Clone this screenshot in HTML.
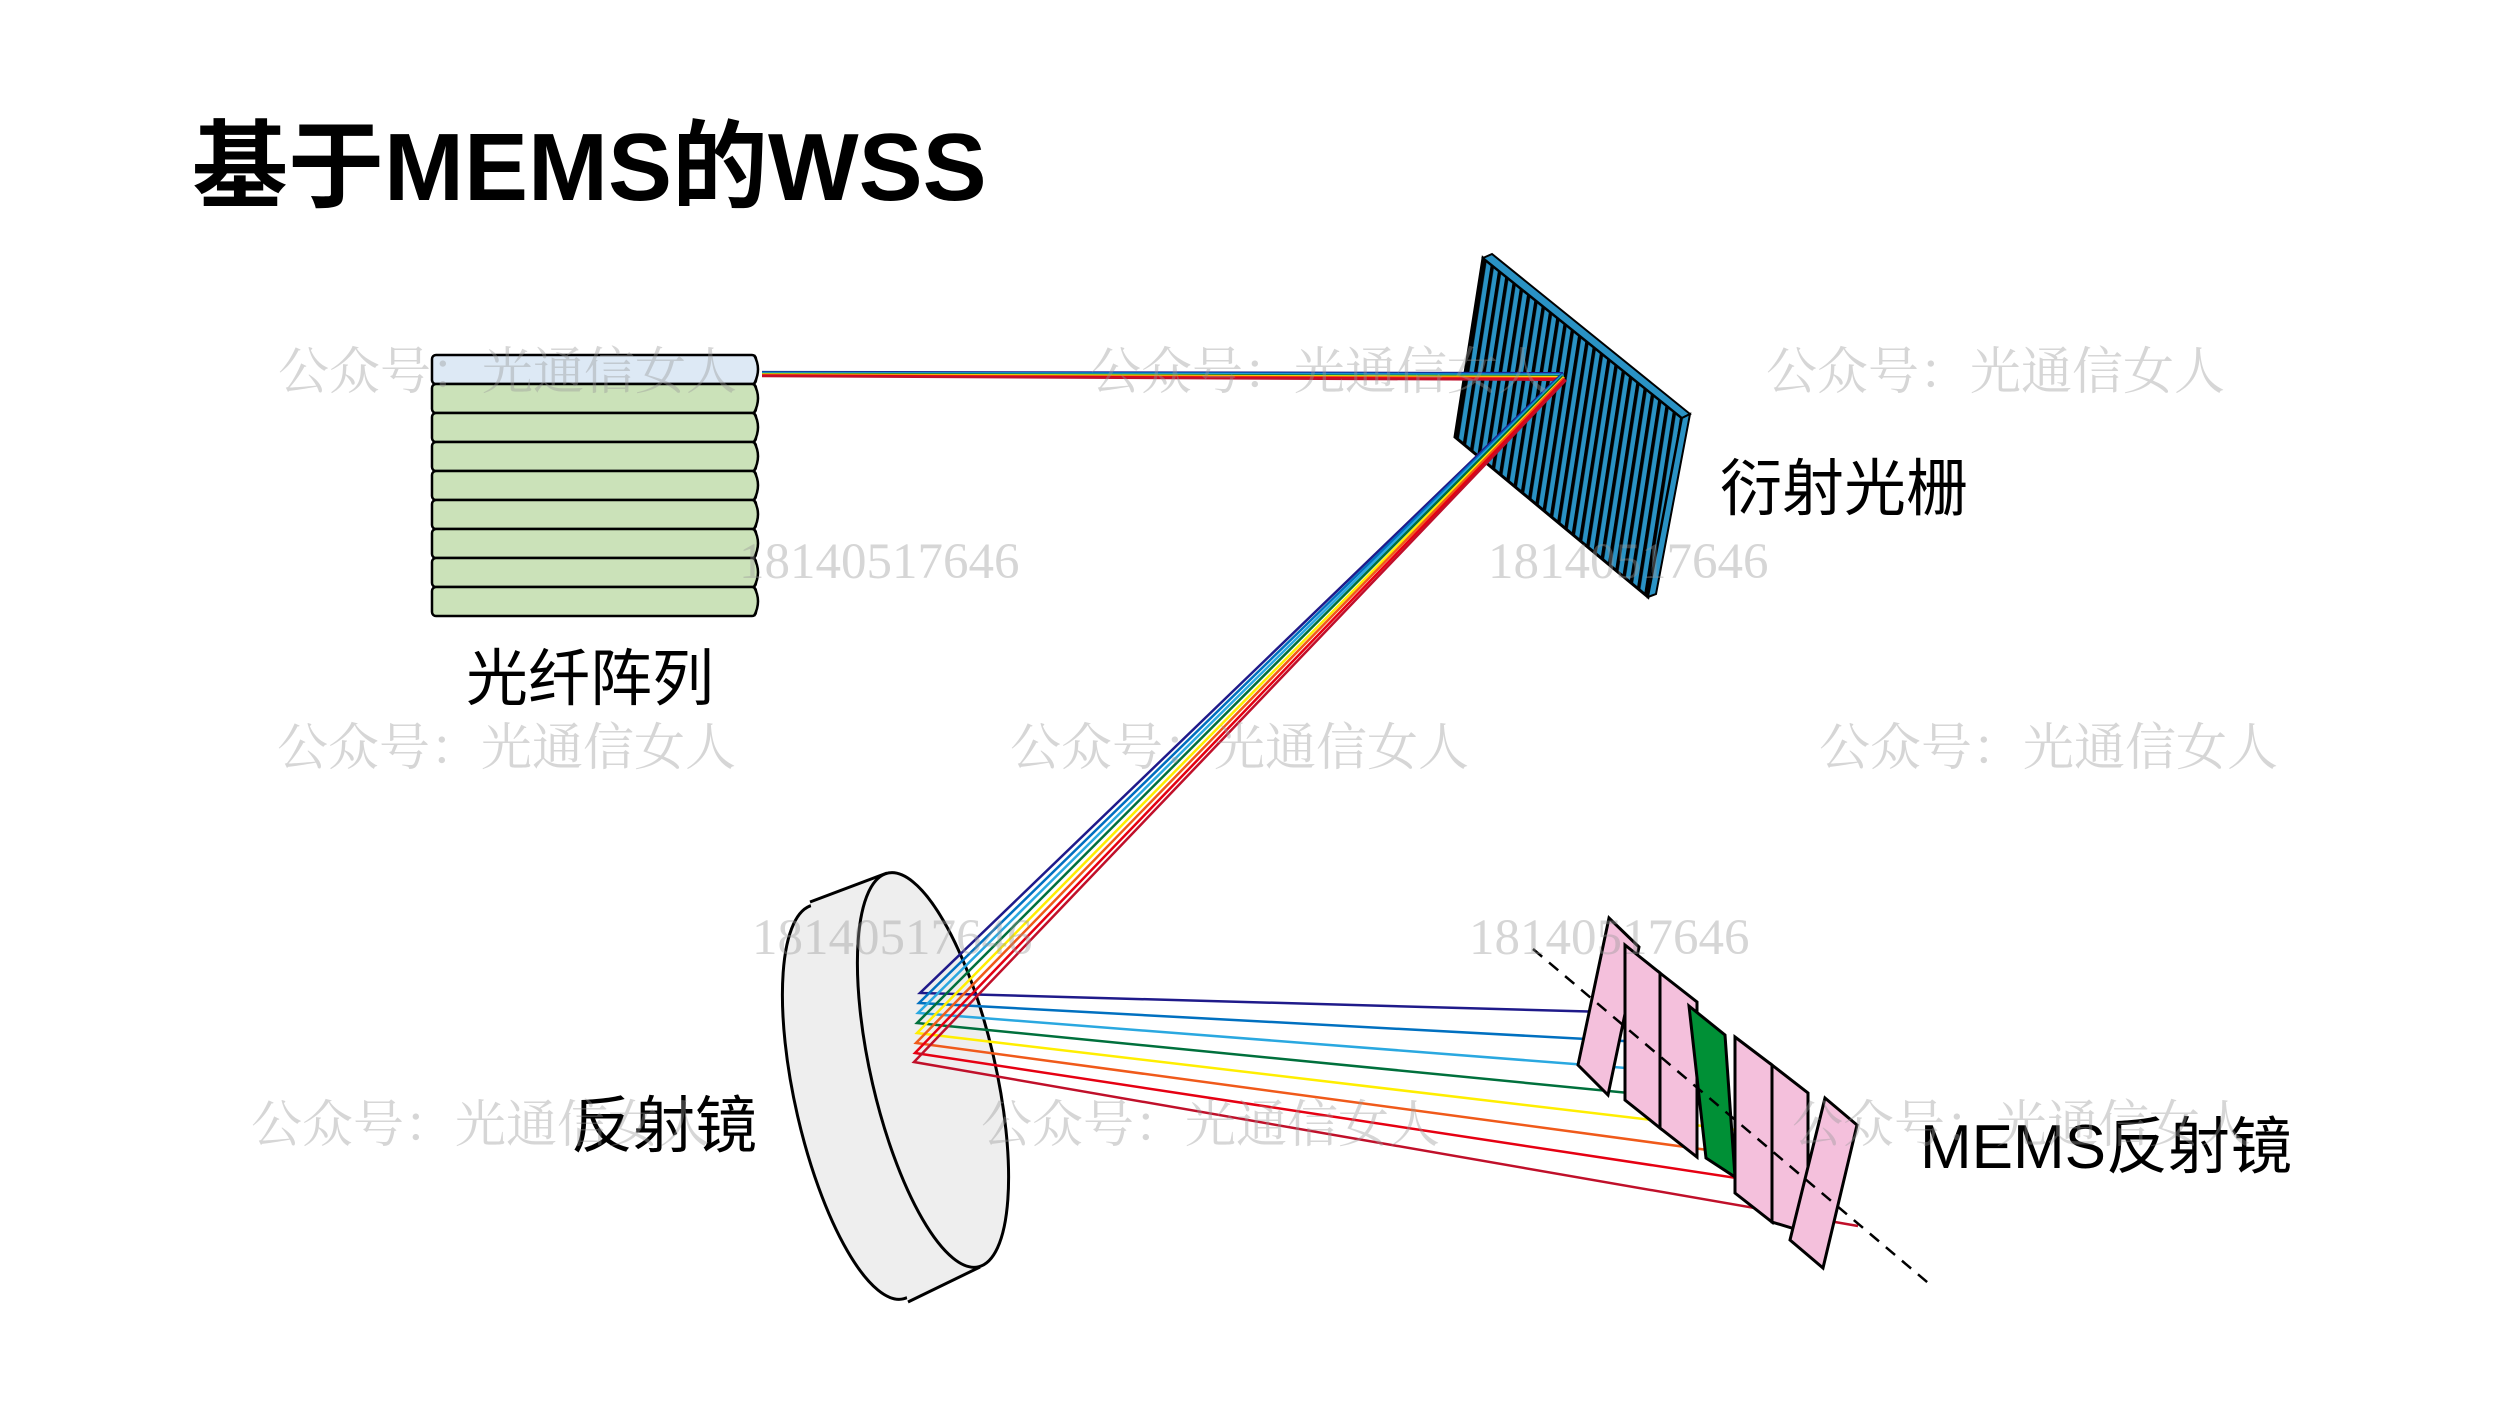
<!DOCTYPE html>
<html><head><meta charset="utf-8"><style>
html,body{margin:0;padding:0;background:#fff;}
svg{display:block}
</style></head><body>
<svg width="2500" height="1406" viewBox="0 0 2500 1406" xmlns="http://www.w3.org/2000/svg">
<defs>
<pattern id="gr" patternUnits="userSpaceOnUse" width="8.2" height="20" patternTransform="translate(1483,0) skewX(-8.9)">
<rect x="0" y="0" width="8.2" height="20" fill="#2a92c4"/>
<rect x="0" y="0" width="3.6" height="20" fill="#000"/>
</pattern>
</defs>
<rect width="2500" height="1406" fill="#fff"/>

<text x="192" y="200" font-family="'Liberation Sans','Noto Sans CJK SC',sans-serif" font-weight="bold" font-size="96" fill="#000">基于MEMS的WSS</text>

<!-- fiber array -->
<g stroke="#000" stroke-width="2.5">
<rect x="432" y="355" width="324" height="29" rx="4" fill="#dde9f5"/>
<rect x="432" y="384" width="324" height="29" rx="4" fill="#cbe2b9"/>
<rect x="432" y="413" width="324" height="29" rx="4" fill="#cbe2b9"/>
<rect x="432" y="442" width="324" height="29" rx="4" fill="#cbe2b9"/>
<rect x="432" y="471" width="324" height="29" rx="4" fill="#cbe2b9"/>
<rect x="432" y="500" width="324" height="29" rx="4" fill="#cbe2b9"/>
<rect x="432" y="529" width="324" height="29" rx="4" fill="#cbe2b9"/>
<rect x="432" y="558" width="324" height="29" rx="4" fill="#cbe2b9"/>
<rect x="432" y="587" width="324" height="29" rx="4" fill="#cbe2b9"/>
</g>
<g stroke="#000" stroke-width="2.5" fill="#cbe2b9">
<path d="M754,355 q8,14 0,29" fill="#dde9f5"/>
<path d="M754,384 q8,14 0,29"/><path d="M754,413 q8,14 0,29"/><path d="M754,442 q8,14 0,29"/>
<path d="M754,471 q8,14 0,29"/><path d="M754,500 q8,14 0,29"/><path d="M754,529 q8,14 0,29"/>
<path d="M754,558 q8,14 0,29"/><path d="M754,587 q8,14 0,29"/>
</g>

<!-- grating -->
<polygon points="1483,258 1682,418 1648,597 1455,437" fill="url(#gr)" stroke="#000" stroke-width="3"/>
<polygon points="1483,258 1492,254 1690,414 1682,418" fill="#2a92c4" stroke="#000" stroke-width="2"/>
<polygon points="1682,418 1690,414 1656,594 1648,597" fill="#2a92c4" stroke="#000" stroke-width="2"/>

<!-- incoming beam -->
<g stroke-width="2.2" fill="none">
<line x1="762" y1="372" x2="1563" y2="373" stroke="#1f1a8a"/>
<line x1="762" y1="372.6" x2="1563" y2="374" stroke="#0070c0"/>
<line x1="762" y1="373.2" x2="1563" y2="375" stroke="#2aa8e0"/>
<line x1="762" y1="373.8" x2="1563" y2="376" stroke="#00703c"/>
<line x1="762" y1="374.4" x2="1563" y2="377" stroke="#ffee00"/>
<line x1="762" y1="375" x2="1563" y2="378" stroke="#f05a1a"/>
<line x1="762" y1="375.6" x2="1563" y2="379" stroke="#e60012"/>
<line x1="762" y1="376.2" x2="1563" y2="380" stroke="#c0102a"/>
</g>

<!-- mirror -->
<g stroke="#000" stroke-width="3">
<ellipse cx="858" cy="1102" rx="62" ry="202" transform="rotate(-13 858 1102)" fill="#eeeeee"/>
<polygon points="810,902 887,873 980,1267 908,1302" fill="#eeeeee" stroke="none"/>
<line x1="810" y1="902" x2="887" y2="873"/>
<line x1="908" y1="1302" x2="980" y2="1267"/>
<ellipse cx="933" cy="1070" rx="62" ry="202" transform="rotate(-13 933 1070)" fill="#eeeeee"/>
</g>

<!-- diagonal beams -->
<g stroke-width="2.5" fill="none">
<polyline points="1563,373 920,993 1607,1012" stroke="#1f1a8a"/>
<polyline points="1563,374 919,1003 1642,1042" stroke="#0070c0"/>
<polyline points="1563,375 918,1013 1677,1072" stroke="#2aa8e0"/>
<polyline points="1563,376 917,1023 1710,1101" stroke="#00703c"/>
<polyline points="1564,377 917,1033 1745,1131" stroke="#ffee00"/>
<polyline points="1564,378 916,1043 1782,1160" stroke="#f05a1a"/>
<polyline points="1565,379 915,1053 1815,1190" stroke="#e60012"/>
<polyline points="1566,380 914,1062 1858,1226" stroke="#c0102a"/>
</g>

<!-- MEMS mirrors -->
<g stroke="#000" stroke-width="3" stroke-linejoin="miter">
<polygon points="1609,918 1639,947 1608,1095 1578,1065" fill="#f4c0dc"/>
<polygon points="1625,945 1660,973 1660,1128 1625,1100" fill="#f4c0dc"/>
<polygon points="1660,973 1697,1002 1697,1157 1660,1128" fill="#f4c0dc"/>
<polygon points="1689,1006 1725,1035 1735,1177 1706,1158" fill="#009036"/>
<polygon points="1735,1037 1772,1065 1772,1222 1735,1193" fill="#f4c0dc"/>
<polygon points="1772,1065 1808,1093 1808,1233 1772,1222" fill="#f4c0dc"/>
<polygon points="1825,1098 1857,1125 1823,1268 1790,1240" fill="#f4c0dc"/>
</g>
<line x1="1533" y1="949" x2="1933" y2="1287" stroke="#000" stroke-width="2.5" stroke-dasharray="12,9"/>

<!-- labels -->
<g font-family="'Liberation Sans','Noto Sans CJK SC',sans-serif" font-size="62" fill="#000">
<text x="1720" y="510">衍射光栅</text>
<text x="466" y="700">光纤阵列</text>
<text x="571" y="1147">反射镜</text>
<text x="1920" y="1168">MEMS反射镜</text>
</g>

<!-- watermarks -->
<g font-family="'Liberation Serif','Noto Serif CJK SC',serif" font-size="51" fill="#999" fill-opacity="0.4">
<text x="278" y="389">公众号：光通信女人</text>
<text x="1090" y="389">公众号：光通信女人</text>
<text x="1766" y="389">公众号：光通信女人</text>
<text x="277" y="765">公众号：光通信女人</text>
<text x="1010" y="765">公众号：光通信女人</text>
<text x="1819" y="765">公众号：光通信女人</text>
<text x="251" y="1142">公众号：光通信女人</text>
<text x="981" y="1142">公众号：光通信女人</text>
<text x="1792" y="1142">公众号：光通信女人</text>
<text x="739" y="578">18140517646</text>
<text x="1488" y="578">18140517646</text>
<text x="752" y="954">18140517646</text>
<text x="1469" y="954">18140517646</text>
</g>
</svg>
</body></html>
